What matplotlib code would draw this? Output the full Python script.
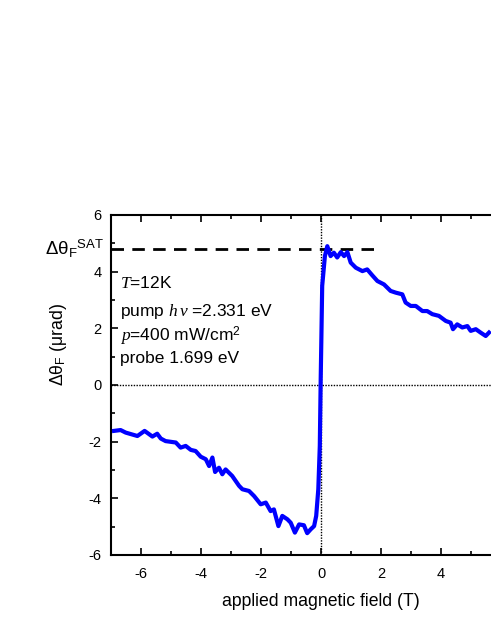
import numpy as np
import matplotlib.pyplot as plt
from matplotlib.ticker import MultipleLocator, FixedLocator

plt.rcParams['font.family'] = ['Liberation Sans', 'DejaVu Sans']
plt.rcParams['mathtext.fontset'] = 'custom'
plt.rcParams['mathtext.rm'] = 'Liberation Sans'
plt.rcParams['mathtext.it'] = 'Liberation Serif:italic'
plt.rcParams['axes.unicode_minus'] = False

# field sweep (T) and Faraday rotation (urad)
field = [-6.9, -6.68, -6.51, -6.12, -5.88, -5.62, -5.46, -5.34, -5.18, -4.84,
         -4.68, -4.51, -4.34, -4.18, -4.01, -3.84, -3.73, -3.62, -3.53, -3.40,
         -3.29, -3.18, -2.96, -2.73, -2.62, -2.40, -2.23, -2.01, -1.84, -1.68,
         -1.57, -1.42, -1.29, -1.12, -1.01, -0.87, -0.73, -0.57, -0.46, -0.34,
         -0.23, -0.16, -0.09, -0.04, -0.01, 0.01, 0.04, 0.13, 0.21, 0.32,
         0.43, 0.54, 0.66, 0.77, 0.88, 0.99, 1.16, 1.38, 1.54, 1.71,
         1.88, 2.10, 2.32, 2.49, 2.71, 2.82, 2.99, 3.16, 3.38, 3.54,
         3.71, 3.93, 4.16, 4.32, 4.40, 4.54, 4.71, 4.88, 4.99, 5.16,
         5.32, 5.49, 5.60]
rotation = [-1.62, -1.59, -1.68, -1.80, -1.62, -1.82, -1.72, -1.89, -1.98, -2.03,
            -2.21, -2.15, -2.29, -2.33, -2.53, -2.62, -2.86, -2.56, -3.07, -2.92,
            -3.15, -2.98, -3.21, -3.56, -3.68, -3.74, -3.92, -4.21, -4.15, -4.45,
            -4.39, -4.98, -4.62, -4.74, -4.86, -5.21, -4.92, -4.95, -5.23, -5.09,
            -4.98, -4.62, -3.68, -2.15, 0.20, 1.50, 3.50, 4.55, 4.90, 4.55,
            4.67, 4.50, 4.69, 4.55, 4.69, 4.32, 4.14, 4.02, 4.08, 3.87,
            3.67, 3.55, 3.32, 3.26, 3.20, 2.91, 2.79, 2.79, 2.61, 2.61,
            2.50, 2.44, 2.26, 2.20, 1.97, 2.14, 2.03, 2.08, 1.91, 1.97,
            1.85, 1.73, 1.85]
sat_level = 4.8
sat_end = 1.82
x_major = [-6, -4, -2, 0, 2, 4]

fig = plt.figure(figsize=(4.91, 6.35), dpi=100)
ax = fig.add_axes([111 / 491, 80 / 635, 420 / 491, 340 / 635])

ax.axhline(0, color='black', lw=1, ls=(0, (1, 1)))
ax.axvline(0, color='black', lw=1, ls=(0, (1, 1)))
ax.plot([-7, sat_end], [sat_level, sat_level], color='black', lw=2, ls=(0, (4.5, 3)))
ax.plot(field, rotation, color='#0000ff', lw=3)

ax.set_xlim(-7, 7)
ax.set_ylim(-6, 6)
ax.xaxis.set_major_locator(FixedLocator(x_major))
ax.xaxis.set_minor_locator(MultipleLocator(1))
ax.yaxis.set_major_locator(MultipleLocator(2))
ax.yaxis.set_minor_locator(MultipleLocator(1))
ax.tick_params(which='both', direction='in', top=True, right=True, labelsize=10.5, width=1.2)
ax.tick_params(which='major', length=5)
ax.tick_params(which='minor', length=3)
ax.tick_params(axis='x', pad=9)
ax.tick_params(axis='y', pad=7)
for s in ax.spines.values():
    s.set_linewidth(1.5)

ax.set_xlabel('applied magnetic field (T)', fontsize=12.7, labelpad=8)
ax.set_ylabel('Δθ$_\\mathrm{F}$ (μrad)', fontsize=12.7)
ax.yaxis.set_label_coords(-0.10, 0.62)

ax.text(-0.157, sat_level, 'Δθ$_\\mathrm{F}$$^\\mathrm{SAT}$', transform=ax.get_yaxis_transform(),
        fontsize=13.5, ha='left', va='center')

fs = 12.5
ax.text(-6.7, 3.6, '$T$=12K', fontsize=fs, va='center')
ax.text(-6.7, 2.6, 'pump $h\\,\\nu$ =2.331 eV', fontsize=fs, va='center')
ax.text(-6.7, 1.7, '$p$=400 mW/cm$^2$', fontsize=fs, va='center')
ax.text(-6.7, 0.93, 'probe 1.699 eV', fontsize=fs, va='center')

fig.savefig('out.png', dpi=100)
